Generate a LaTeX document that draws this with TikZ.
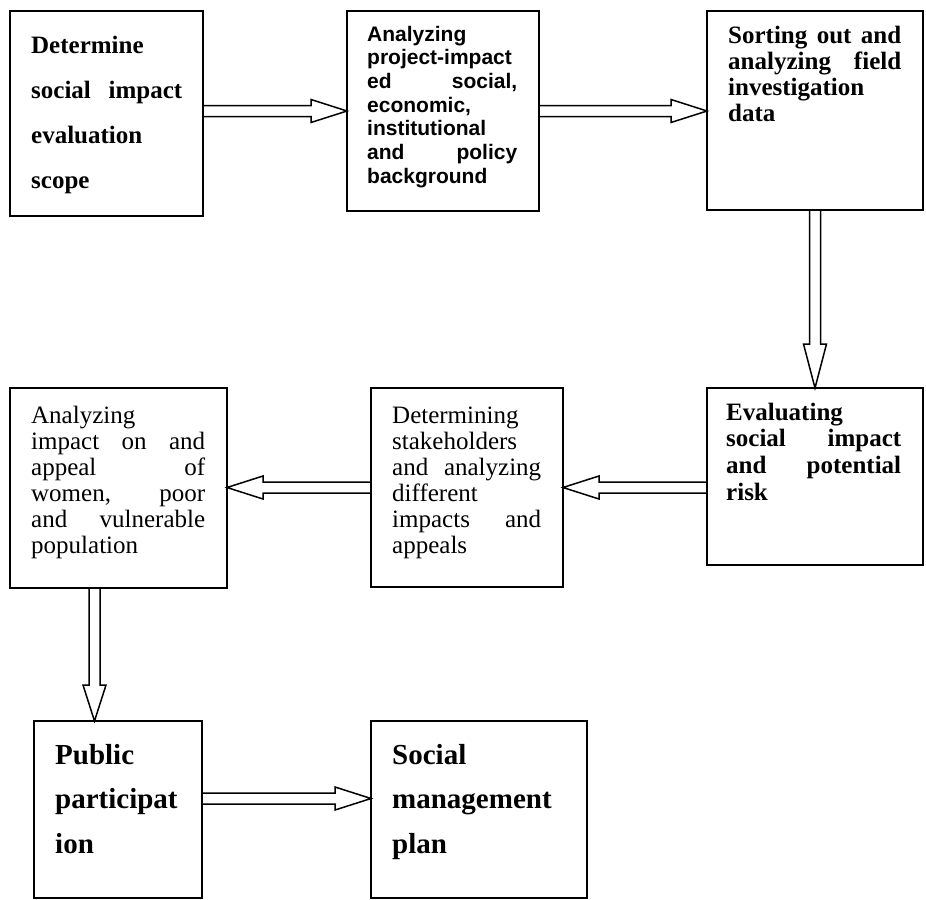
\documentclass[tikz,border=0pt]{standalone}
\usepackage{fontspec}
\setmainfont{Liberation Serif}
\newfontfamily\arialfont{Liberation Sans}
\usetikzlibrary{calc}

\newcommand\jline[1]{\makebox[\hsize][s]{\spaceskip=0pt\xspaceskip=0pt #1}}

\begin{document}
\begin{tikzpicture}[x=1bp,y=-1bp,
  box/.style={draw, line width=1.8bp, anchor=north west, inner sep=0pt, outer sep=0pt},
  txt/.style={anchor=base west, align=flush left, inner sep=0pt},
  fat head/.store in=\fathead, fat head=36bp,
  fat/.style={line width=1.5bp, line join=miter, to path={
    ($(\tikztostart)!5.5bp!90:(\tikztotarget)$)
    -- ($(\tikztotarget)!\fathead!(\tikztostart)!5.5bp!-90:(\tikztostart)$)
    -- ($(\tikztotarget)!\fathead!(\tikztostart)!11.5bp!-90:(\tikztostart)$)
    -- (\tikztotarget)
    -- ($(\tikztotarget)!\fathead!(\tikztostart)!11.5bp!90:(\tikztostart)$)
    -- ($(\tikztotarget)!\fathead!(\tikztostart)!5.5bp!90:(\tikztostart)$)
    -- ($(\tikztostart)!5.5bp!-90:(\tikztotarget)$)}}]
  \useasboundingbox (0,0) rectangle (926,900);

  % boxes
  \node[box, minimum width=193bp, minimum height=205bp] (b1) at (10,11) {};
  \node[box, minimum width=192bp, minimum height=200bp] (b2) at (347,11) {};
  \node[box, minimum width=216bp, minimum height=199bp] (b3) at (707,11) {};
  \node[box, minimum width=216bp, minimum height=177bp] (b4) at (707,388) {};
  \node[box, minimum width=192bp, minimum height=199bp] (b5) at (371,388) {};
  \node[box, minimum width=217bp, minimum height=200bp] (b6) at (10,388) {};
  \node[box, minimum width=168bp, minimum height=177bp] (b7) at (34,721) {};
  \node[box, minimum width=216bp, minimum height=177bp] (b8) at (371,721) {};

  % texts
  \node[txt, text width=151bp, font=\bfseries\fontsize{25bp}{45bp}\selectfont] (t1)
    at ($(b1.north west)+(21,42)$) {Determine\\ \jline{social impact}\\ evaluation\\ scope};
  \node[txt, text width=150bp, font=\arialfont\bfseries\fontsize{21bp}{23.7bp}\selectfont] (t2)
    at ($(b2.north west)+(20,30)$) {Analyzing\\ project-impact\\ \jline{ed social,}\\ economic,\\ institutional\\ \jline{and policy}\\ background};
  \node[txt, text width=173bp, font=\bfseries\fontsize{25bp}{26bp}\selectfont] (t3)
    at ($(b3.north west)+(21,32)$) {\jline{Sorting out and}\\ \jline{analyzing field}\\ investigation\\ data};
  \node[txt, text width=175bp, font=\bfseries\fontsize{25bp}{26.7bp}\selectfont] (t4)
    at ($(b4.north west)+(19,32)$) {Evaluating\\ \jline{social impact}\\ \jline{and potential}\\ risk};
  \node[txt, text width=149bp, font=\fontsize{25bp}{26bp}\selectfont] (t5)
    at ($(b5.north west)+(21,35)$) {Determining\\ stakeholders\\ \jline{and analyzing}\\ different\\ \jline{impacts and}\\ appeals};
  \node[txt, text width=174bp, font=\fontsize{25bp}{26bp}\selectfont] (t6)
    at ($(b6.north west)+(21,35)$) {Analyzing\\ \jline{impact on and}\\ \jline{appeal of}\\ \jline{women, poor}\\ \jline{and vulnerable}\\ population};
  \node[txt, text width=140bp, font=\bfseries\fontsize{29bp}{44.5bp}\selectfont] (t7)
    at ($(b7.north west)+(21,43)$) {Public\\ participat\\ ion};
  \node[txt, text width=180bp, font=\bfseries\fontsize{29bp}{44.5bp}\selectfont] (t8)
    at ($(b8.north west)+(21,43)$) {Social\\ management\\ plan};

  % arrows
  \coordinate (a6) at ([xshift=-24bp]b6.south);
  \coordinate (a7) at ([yshift=11bp]b7.east);
  \draw[fat] (b1.east |- b2.west) to (b2.west);
  \draw[fat] (b2.east) to (b2.east -| b3.west);
  \draw[fat, fat head=44bp] (b3.south) to (b4.north);
  \draw[fat] (b4.west |- b5.east) to (b5.east);
  \draw[fat] (b5.west) to (b5.west -| b6.east);
  \draw[fat] (a6) to (a6 |- b7.north);
  \draw[fat] (a7) to (a7 -| b8.west);
\end{tikzpicture}
\end{document}
